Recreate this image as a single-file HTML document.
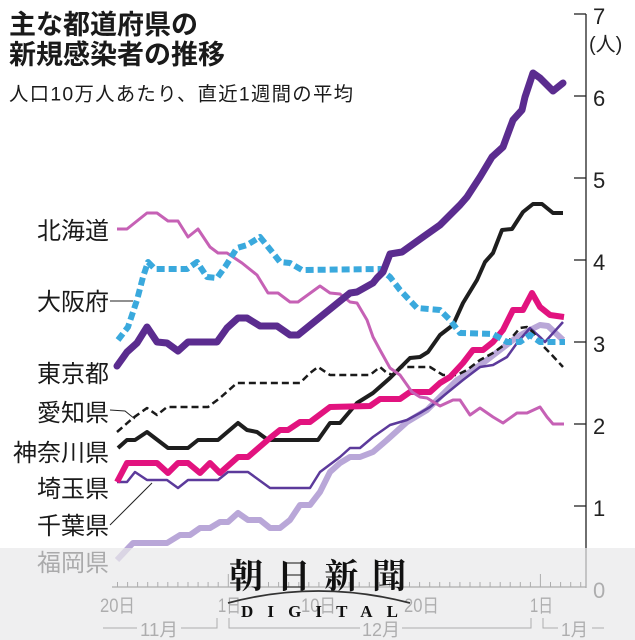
<!DOCTYPE html>
<html><head><meta charset="utf-8"><style>
html,body{margin:0;padding:0;background:#fff;}
svg{display:block;}
text{font-family:"Liberation Sans","Noto Sans CJK JP",sans-serif;}
</style></head><body>
<svg width="635" height="640" viewBox="0 0 635 640" xmlns="http://www.w3.org/2000/svg">
<rect width="635" height="640" fill="#fff"/>
<!-- Title -->
<text x="9" y="34" font-size="27" font-weight="bold" fill="#1a1a1a">主な都道府県の</text>
<text x="9" y="64" font-size="27" font-weight="bold" fill="#1a1a1a">新規感染者の推移</text>
<text x="9" y="100.5" font-size="19.4" fill="#1a1a1a" textLength="344" lengthAdjust="spacing">人口10万人あたり、直近1週間の平均</text>

<!-- Y axis -->
<g stroke="#222" stroke-width="1.3" fill="none">
<line x1="586" y1="14" x2="586" y2="588"/>
<line x1="574" y1="14" x2="586" y2="14"/>
<line x1="574" y1="96" x2="586" y2="96"/>
<line x1="574" y1="178" x2="586" y2="178"/>
<line x1="574" y1="260" x2="586" y2="260"/>
<line x1="574" y1="342" x2="586" y2="342"/>
<line x1="574" y1="424" x2="586" y2="424"/>
<line x1="574" y1="506" x2="586" y2="506"/>
<line x1="112" y1="587" x2="586" y2="587"/>
</g>
<g font-size="22" fill="#222">
<text x="593" y="24">7</text>
<text x="589" y="51" font-size="20">(人)</text>
<text x="593" y="106">6</text>
<text x="593" y="188">5</text>
<text x="593" y="270">4</text>
<text x="593" y="352">3</text>
<text x="593" y="434">2</text>
<text x="593" y="516">1</text>
<text x="593" y="598">0</text>
</g>

<!-- X ticks -->
<g stroke="#222" stroke-width="1">
<path d="M117.5,587v-5 M127.6,587v-5 M137.6,587v-5 M147.7,587v-5 M157.8,587v-5 M167.8,587v-5 M177.9,587v-5 M188,587v-5 M198.1,587v-5 M208.1,587v-5 M218.2,587v-5 M228.3,587v-13 M238.3,587v-5 M248.4,587v-5 M258.5,587v-5 M268.5,587v-5 M278.6,587v-5 M288.7,587v-5 M298.8,587v-5 M308.8,587v-5 M318.9,587v-5 M329,587v-5 M339,587v-5 M349.1,587v-5 M359.2,587v-5 M369.3,587v-5 M379.3,587v-5 M389.4,587v-5 M399.5,587v-5 M409.5,587v-5 M419.6,587v-5 M429.7,587v-5 M439.7,587v-5 M449.8,587v-5 M459.9,587v-5 M470,587v-5 M480,587v-5 M490.1,587v-5 M500.2,587v-5 M510.2,587v-5 M520.3,587v-5 M530.4,587v-5 M540.4,587v-13 M550.5,587v-5 M560.6,587v-5 M570.7,587v-5 M580.7,587v-5"/>
</g>
<g font-size="19" fill="#222">
<text x="100" y="612" textLength="35" lengthAdjust="spacingAndGlyphs">20日</text>
<text x="218" y="612" textLength="23" lengthAdjust="spacingAndGlyphs">1日</text>
<text x="301" y="612" textLength="35" lengthAdjust="spacingAndGlyphs">10日</text>
<text x="404" y="612" textLength="35" lengthAdjust="spacingAndGlyphs">20日</text>
<text x="530" y="612" textLength="23" lengthAdjust="spacingAndGlyphs">1日</text>
</g>
<g stroke="#222" stroke-width="1" fill="none">
<path d="M103,628H137 M181,628H217V618"/>
<path d="M229,618V628H360 M402,628H531V618"/>
<path d="M543,618V628H558 M592,628H604"/>
</g>
<g font-size="18" fill="#222">
<text x="140" y="636" textLength="38" lengthAdjust="spacingAndGlyphs">11月</text>
<text x="362" y="636" textLength="38" lengthAdjust="spacingAndGlyphs">12月</text>
<text x="561" y="636" textLength="27" lengthAdjust="spacingAndGlyphs">1月</text>
</g>

<!-- Series -->
<g fill="none" stroke-linejoin="round" stroke-linecap="butt">
<polyline stroke="#b9a7d8" stroke-width="6" points="117,560 133,543 167,543 180,535 190,535 200,528 210,528 220,522 228,522 238,513 248,520 260,520 270,528 280,528 290,520 300,505 310,505 320,492 330,472 340,463 350,457 360,457 373,452 387,440 407,422 427,410 440,397 457,380 473,370 487,360 500,350 517,337 530,330 540,325 548,326 563,340"/>
<polyline stroke="#5c3a9b" stroke-width="2.5" points="117,482 127,482 135,472 147,480 167,480 178,488 188,480 218,480 228,472 248,472 270,488 310,488 320,472 340,457 350,448 360,448 373,437 390,425 407,420 420,413 430,407 447,393 463,380 480,367 493,365 507,357 517,343 530,328 540,337 545,342 563,322"/>
<polyline stroke="#1a1a1a" stroke-width="2.5" stroke-dasharray="7,4" points="117,432 133,418 147,408 157,415 167,407 208,407 220,398 237,383 300,383 310,373 318,367 330,375 370,375 380,367 387,373 393,375 400,367 430,367 443,375 457,375 467,370 480,360 493,353 507,343 520,328 527,327 533,332 540,343 550,353 563,367"/>
<polyline stroke="#1e1e1e" stroke-width="4" points="118,448 127,440 135,440 147,432 168,448 188,448 198,440 218,440 238,423 247,430 257,432 268,440 318,440 330,423 340,423 357,403 373,393 390,378 410,358 420,357 428,352 440,335 453,325 463,303 477,280 485,262 493,253 502,230 512,229 523,212 533,204 542,204 553,213 563,213"/>
<polyline stroke="#e2137f" stroke-width="6" points="117,482 127,463 157,463 168,473 178,463 188,463 200,473 210,463 220,473 238,457 248,457 270,438 280,430 288,430 300,422 310,422 330,407 370,406 380,399 400,399 410,392 430,392 440,383 450,377 463,363 473,350 483,350 493,342 503,330 513,310 523,310 532,293 540,307 550,315 564,317"/>
<polyline stroke="#c661b5" stroke-width="3" points="117,229 127,229 147,213 157,213 168,221 178,221 188,237 198,229 210,247 218,253 227,253 242,263 257,275 268,293 278,293 290,302 298,302 320,286 330,293 340,294 350,302 357,303 367,320 373,337 380,350 390,368 400,375 412,392 420,397 427,398 440,406 453,400 460,400 470,415 480,408 493,417 503,423 517,413 527,413 540,407 547,417 553,424 564,424"/>
<polyline stroke="#3aa9dd" stroke-width="6" stroke-dasharray="8,4" points="118,340 128,327 137,300 143,277 148,262 155,269 187,269 197,262 207,277 217,278 225,267 237,248 247,245 260,237 273,253 280,262 290,263 302,270 380,269 390,277 400,290 417,308 440,310 450,320 460,333 493,334 507,342 520,342 530,335 540,342 565,342"/>
<polyline stroke="#5b2c8f" stroke-width="7" stroke-linecap="round" points="117,366 127,352 137,343 147,327 157,342 167,343 178,351 188,342 217,342 227,328 238,318 247,318 260,326 277,326 290,335 298,335 350,293 357,292 373,283 377,278 383,272 390,254 402,252 423,237 440,225 460,205 467,197 480,177 492,157 503,147 510,128 513,120 522,110 525,97 533,73 540,78 553,91 563,83"/>
</g>

<!-- Leader lines -->
<g stroke="#222" stroke-width="1" fill="none">
<line x1="110" y1="301" x2="133" y2="301"/>
<polyline points="110,410 125,411 135,419"/>
<line x1="110" y1="525" x2="152" y2="483"/>
</g>

<!-- Legend labels -->
<g font-size="24" fill="#1a1a1a" text-anchor="end">
<text x="109" y="239">北海道</text>
<text x="109" y="310">大阪府</text>
<text x="109" y="382">東京都</text>
<text x="109" y="421">愛知県</text>
<text x="109" y="461">神奈川県</text>
<text x="109" y="497">埼玉県</text>
<text x="109" y="534">千葉県</text>
<text x="109" y="571">福岡県</text>
</g>

<!-- Watermark overlay -->
<rect x="0" y="548" width="635" height="92" fill="#e8e8ea" opacity="0.7"/>
<text x="229" y="588" font-size="34" font-weight="bold" fill="#111" textLength="177" lengthAdjust="spacing" style="font-family:'Noto Serif CJK SC','Noto Serif CJK JP',serif;">朝日新聞</text>
<path d="M228,603 Q318,579 410,603" stroke="#333" stroke-width="1.8" fill="none"/>
<text x="241" y="617" font-size="17" font-weight="bold" fill="#111" textLength="157" lengthAdjust="spacing" style="font-family:'Liberation Serif',serif;">DIGITAL</text>
</svg>
</body></html>
